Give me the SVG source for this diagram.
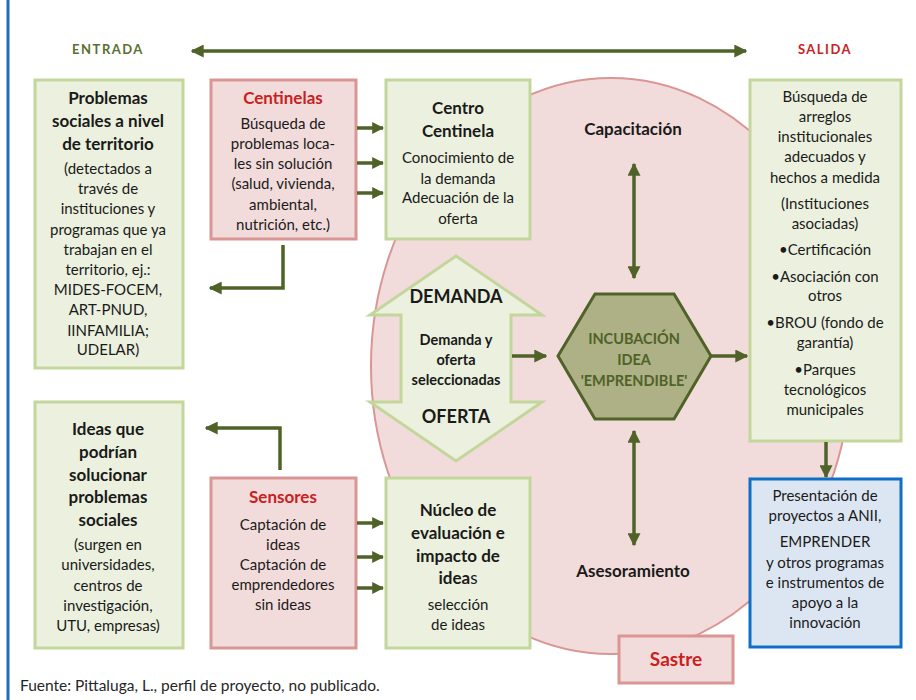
<svg xmlns="http://www.w3.org/2000/svg" width="916" height="700" viewBox="0 0 916 700">
<defs>
<marker id="ah" viewBox="0 0 10 10" refX="9" refY="5" markerWidth="13" markerHeight="13" markerUnits="userSpaceOnUse" orient="auto-start-reverse">
<path d="M0,0 L10,5 L0,10 z" fill="#4F6228"/>
</marker>
<marker id="ahs" viewBox="0 0 10 10" refX="9" refY="5" markerWidth="12" markerHeight="12" markerUnits="userSpaceOnUse" orient="auto-start-reverse">
<path d="M0,0 L10,5 L0,10 z" fill="#4F6228"/>
</marker>
</defs>
<style>
text{font-family:Lato,"Liberation Sans",sans-serif;text-anchor:middle;fill:#1a1a1a}
.r{font-size:15px}
.b{font-size:17px;font-weight:bold}
.red{fill:#C9211E;font-weight:bold;font-size:17px}
.g{fill:#EBF1DE;stroke:#C3D69B;stroke-width:3}
.p{fill:#F2DCDB;stroke:#D99694;stroke-width:3}
.con{stroke:#4F6228;stroke-width:3.5;fill:none}
</style>
<rect x="0" y="0" width="916" height="700" fill="#ffffff"/>
<line x1="8" y1="0" x2="8" y2="700" stroke="#1F6FBF" stroke-width="3"/>

<g id="ellipse">
<ellipse cx="611" cy="366" rx="240" ry="288" fill="#F2DCDB" stroke="#D99694" stroke-width="2"/>
</g>

<g id="entrada"><text x="108" y="54" style="font-size:13px;font-weight:bold;fill:#5B7030;letter-spacing:1.5px">ENTRADA</text></g>
<g id="salida"><text x="825" y="54" style="font-size:13px;font-weight:bold;fill:#C9211E;letter-spacing:1.5px">SALIDA</text></g>

<g id="problemas">
<rect class="g" x="35" y="80" width="148" height="288"/>
<text class="b" x="108" y="104">Problemas</text>
<text class="b" x="108" y="127">sociales a nivel</text>
<text class="b" x="108" y="150">de territorio</text>
<text class="r" x="108" y="174">(detectados a</text>
<text class="r" x="108" y="194">través de</text>
<text class="r" x="108" y="214">instituciones y</text>
<text class="r" x="108" y="235">programas que ya</text>
<text class="r" x="108" y="255">trabajan en el</text>
<text class="r" x="108" y="275">territorio, ej.:</text>
<text class="r" x="108" y="295">MIDES-FOCEM,</text>
<text class="r" x="108" y="315">ART-PNUD,</text>
<text class="r" x="108" y="336">IINFAMILIA;</text>
<text class="r" x="108" y="355">UDELAR)</text>
</g>

<g id="centinelas">
<rect class="p" x="211" y="80" width="145" height="159"/>
<text class="red" x="283" y="104">Centinelas</text>
<text class="r" x="283" y="129">Búsqueda de</text>
<text class="r" x="283" y="149">problemas loca-</text>
<text class="r" x="283" y="169">les sin solución</text>
<text class="r" x="283" y="189">(salud, vivienda,</text>
<text class="r" x="283" y="210">ambiental,</text>
<text class="r" x="283" y="230">nutrición, etc.)</text>
</g>

<g id="centro">
<rect class="g" x="386" y="80" width="144" height="159"/>
<text class="b" x="458" y="114">Centro</text>
<text class="b" x="458" y="137">Centinela</text>
<text class="r" x="458" y="163">Conocimiento de</text>
<text class="r" x="458" y="184">la demanda</text>
<text class="r" x="458" y="203">Adecuación de la</text>
<text class="r" x="458" y="224">oferta</text>
</g>

<g id="capacitacion"><text x="633" y="135" style="font-size:17px;font-weight:bold">Capacitación</text></g>
<g id="asesoramiento"><text x="633" y="577" style="font-size:17px;font-weight:bold">Asesoramiento</text></g>

<g id="demanda-oferta">
<path class="g" d="M456,256 L542,315 L511,315 L511,402 L542,402 L456,461 L370,402 L401,402 L401,315 L370,315 Z" stroke-width="2.5"/>
<text x="456" y="303" style="font-size:18px;font-weight:bold">DEMANDA</text>
<text x="456" y="345" style="font-size:14.5px;font-weight:bold">Demanda y</text>
<text x="456" y="365" style="font-size:14.5px;font-weight:bold">oferta</text>
<text x="456" y="385" style="font-size:14.5px;font-weight:bold">seleccionadas</text>
<text x="456" y="423" style="font-size:18px;font-weight:bold">OFERTA</text>
</g>

<g id="incubacion">
<path d="M558,356 L595,294 L674,294 L711,356 L674,419 L595,419 Z" fill="#AEB085" stroke="#4F6228" stroke-width="3"/>
<text x="634" y="344" style="font-size:14.5px;font-weight:bold;fill:#4F6228">INCUBACIÓN</text>
<text x="634" y="365" style="font-size:14.5px;font-weight:bold;fill:#4F6228">IDEA</text>
<text x="634" y="386" style="font-size:14.5px;font-weight:bold;fill:#4F6228">'EMPRENDIBLE'</text>
</g>

<g id="busqueda">
<rect class="g" x="750" y="80" width="151" height="361"/>
<text class="r" x="825" y="102">Búsqueda de</text>
<text class="r" x="825" y="122">arreglos</text>
<text class="r" x="825" y="142">institucionales</text>
<text class="r" x="825" y="162">adecuados y</text>
<text class="r" x="825" y="183">hechos a medida</text>
<text class="r" x="825" y="209">(Instituciones</text>
<text class="r" x="825" y="229">asociadas)</text>
<text class="r" x="825" y="255">•Certificación</text>
<text class="r" x="825" y="282">•Asociación con</text>
<text class="r" x="825" y="301">otros</text>
<text class="r" x="825" y="328">•BROU (fondo de</text>
<text class="r" x="825" y="348">garantía)</text>
<text class="r" x="825" y="375">•Parques</text>
<text class="r" x="825" y="395">tecnológicos</text>
<text class="r" x="825" y="415">municipales</text>
</g>

<g id="presentacion">
<rect x="750" y="479" width="151" height="168" fill="#DCE6F2" stroke="#0F6FC6" stroke-width="3"/>
<text class="r" x="825" y="501">Presentación de</text>
<text class="r" x="825" y="521">proyectos a ANII,</text>
<text class="r" x="825" y="547">EMPRENDER</text>
<text class="r" x="825" y="568">y otros programas</text>
<text class="r" x="825" y="588">e instrumentos de</text>
<text class="r" x="825" y="608">apoyo a la</text>
<text class="r" x="825" y="628">innovación</text>
</g>

<g id="ideas">
<rect class="g" x="35" y="402" width="148" height="246"/>
<text class="b" x="108" y="435">Ideas que</text>
<text class="b" x="108" y="458">podrían</text>
<text class="b" x="108" y="481">solucionar</text>
<text class="b" x="108" y="503">problemas</text>
<text class="b" x="108" y="526">sociales</text>
<text class="r" x="108" y="550">(surgen en</text>
<text class="r" x="108" y="570">universidades,</text>
<text class="r" x="108" y="591">centros de</text>
<text class="r" x="108" y="611">investigación,</text>
<text class="r" x="108" y="631">UTU, empresas)</text>
</g>

<g id="sensores">
<rect class="p" x="211" y="478" width="145" height="170"/>
<text class="red" x="283" y="503">Sensores</text>
<text class="r" x="283" y="530">Captación de</text>
<text class="r" x="283" y="550">ideas</text>
<text class="r" x="283" y="570">Captación de</text>
<text class="r" x="283" y="590">emprendedores</text>
<text class="r" x="283" y="610">sin ideas</text>
</g>

<g id="nucleo">
<rect class="g" x="386" y="478" width="144" height="170"/>
<text class="b" x="458" y="516">Núcleo de</text>
<text class="b" x="458" y="539">evaluación e</text>
<text class="b" x="458" y="562">impacto de</text>
<text class="b" x="458" y="584">idea<tspan style="font-weight:normal">s</tspan></text>
<text class="r" x="458" y="610">selección</text>
<text class="r" x="458" y="630">de ideas</text>
</g>

<g id="sastre">
<rect class="p" x="619" y="636" width="114" height="47"/>
<text x="676" y="666" style="font-size:19px;font-weight:bold;fill:#C9211E">Sastre</text>
</g>

<g id="fuente"><text x="20" y="691" style="font-size:15.5px;text-anchor:start;fill:#262626">Fuente: Pittaluga, L., perfil de proyecto, no publicado.</text></g>

<g id="connectors">
<line class="con" x1="192" y1="51" x2="746" y2="51" marker-start="url(#ah)" marker-end="url(#ah)"/>
<line class="con" x1="357" y1="128" x2="383" y2="128" marker-end="url(#ahs)"/>
<line class="con" x1="357" y1="163" x2="383" y2="163" marker-end="url(#ahs)"/>
<line class="con" x1="357" y1="193" x2="383" y2="193" marker-end="url(#ahs)"/>
<polyline class="con" points="283,245 283,288 210,288" marker-end="url(#ah)"/>
<polyline class="con" points="280,470 280,428 206,428" marker-end="url(#ah)"/>
<line class="con" x1="357" y1="523" x2="383" y2="523" marker-end="url(#ahs)"/>
<line class="con" x1="357" y1="557" x2="383" y2="557" marker-end="url(#ahs)"/>
<line class="con" x1="357" y1="588" x2="383" y2="588" marker-end="url(#ahs)"/>
<line class="con" x1="634" y1="164" x2="634" y2="278" marker-start="url(#ah)" marker-end="url(#ah)"/>
<line class="con" x1="634" y1="431" x2="634" y2="545" marker-start="url(#ah)" marker-end="url(#ah)"/>
<line class="con" x1="512" y1="356" x2="546" y2="356" marker-end="url(#ah)"/>
<line class="con" x1="711" y1="356" x2="747" y2="356" marker-end="url(#ah)"/>
<line class="con" x1="826" y1="442" x2="826" y2="477" marker-end="url(#ah)"/>
</g>
</svg>
